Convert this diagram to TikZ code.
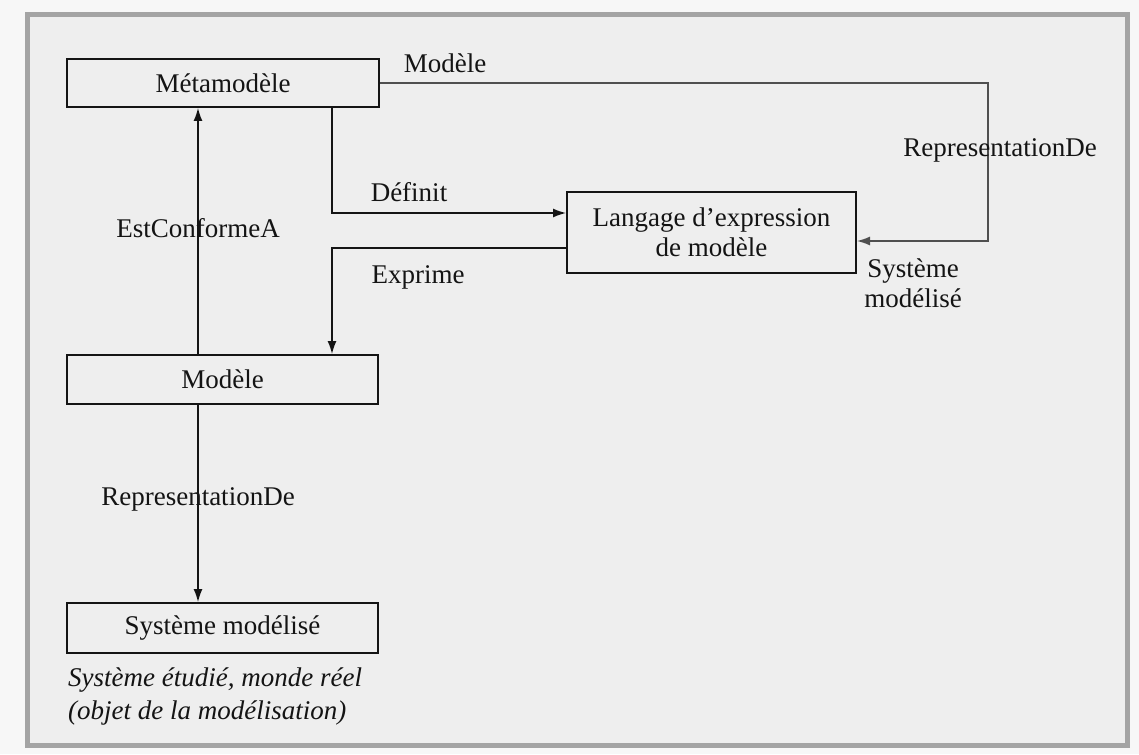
\documentclass[tikz,border=0pt]{standalone}
\usepackage{fontspec}
\setmainfont{Liberation Serif}
\usetikzlibrary{arrows.meta}
\definecolor{paper}{HTML}{EEEEEE}
\definecolor{outside}{HTML}{F7F7F7}
\definecolor{framegray}{HTML}{A4A4A4}
\definecolor{ink}{HTML}{141414}
\begin{document}
\begin{tikzpicture}[x=1pt,y=-1pt,
  every node/.style={font=\fontsize{27}{31}\selectfont, text=ink},
  box/.style={draw=ink, line width=2pt, inner sep=0pt, align=center},
  link/.style={draw=ink, line width=1.4pt, -{Latex[length=13pt,width=9pt]}},
  lbl/.style={inner sep=0pt, anchor=center},
  note/.style={inner sep=0pt, anchor=west, font=\fontsize{27}{31}\selectfont\itshape}]
  % page and frame
  \fill[outside] (0,0) rectangle (1139,754);
  \useasboundingbox (0,0) rectangle (1139,754);
  \fill[paper] (27,15) rectangle (1127,745);
  \draw[framegray, line width=5pt] (27,15) rectangle (1127,745);

  % boxes
  \node[box, minimum width=312pt, minimum height=48pt] (meta) at (223,83) {Métamodèle};
  \node[box, minimum width=289pt, minimum height=81pt] (lang) at (711.5,232.5)
       {Langage d’expression\\[-1pt]de modèle};
  \node[box, minimum width=311pt, minimum height=49pt] (mod) at (222.5,379.5) {Modèle};
  \node[box, minimum width=311pt, minimum height=50pt] (sys) at (222.5,628) {Système modélisé};

  % routing helpers
  \coordinate (cx) at (198,0);
  \coordinate (dx) at (332,0);
  \coordinate (dy) at (0,213);
  \coordinate (ey) at (0,248);
  \coordinate (rx) at (988,0);
  \coordinate (ry) at (0,241);

  % connectors
  \draw[link] (mod.north -| cx) -- (meta.south -| cx);
  \draw[link] (mod.south -| cx) -- (sys.north -| cx);
  \draw[link] (meta.south -| dx) |- (lang.west |- dy);
  \draw[link] (lang.west |- ey) -| (mod.north -| dx);
  \draw[link, draw=ink!75] (meta.east) -| (rx |- ry) -- (lang.east |- ry);

  % labels
  \node[lbl] (lmod) at (445,63) {Modèle};
  \node[lbl] (ldef) at (409,192) {Définit};
  \node[lbl] (lexp) at (418,277) {Exprime};
  \node[lbl] (lconf) at (198,228) {EstConformeA};
  \node[lbl] (lrep) at (198,499) {RepresentationDe};
  \node[lbl] (lrep2) at (1000,150) {RepresentationDe};
  \node[lbl, align=center] (lsys) at (913,283) {Système\\[-1pt]modélisé};
  \node[note] (n1) at (68,680) {Système étudié, monde réel};
  \node[note] (n2) at (68,713) {(objet de la modélisation)};
\end{tikzpicture}
\end{document}
